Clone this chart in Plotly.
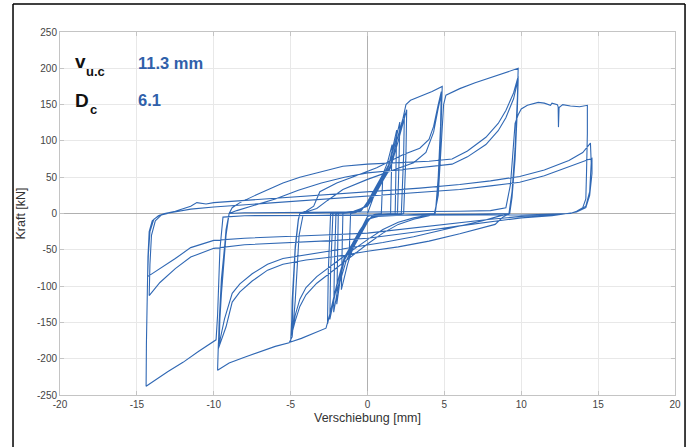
import plotly.graph_objects as go

# ---- data: hysteresis path, cycle by cycle (displacement mm, force kN) ----
s1_x = [0, 0.3, 0.6, 1.0, 0.95, 0.9, 0.5, 0.0, -0.5, -0.9, -1.2, -1.15, -1.1]
s1_y = [0, 18, 35, 55, 25, 0, -1, -4, -25, -45, -62, -30, 0]
s2_x = [-0.8, -0.4, 0, 0.5, 1.0, 1.3, 1.6, 1.55, 1.5, 1.0, 0.3, 0, -0.5, -1.0, -1.3, -1.7, -1.65, -1.6]
s2_y = [1, 4, 16, 34, 54, 70, 95, 50, 0, -1, -3, -12, -30, -50, -70, -105, -50, 0]
s3_x = [-1.2, -0.5, 0, 0.5, 1.0, 1.4, 1.7, 1.9, 1.85, 1.8, 1.2, 0.4, 0, -0.5, -1.0, -1.4, -1.8, -2.0, -1.95, -1.9]
s3_y = [1, 3, 14, 32, 52, 68, 95, 115, 60, 0, -1, -3, -10, -28, -48, -66, -95, -125, -60, 0]
s4_x = [-1.5, -0.6, 0, 0.5, 1.0, 1.4, 1.8, 2.1, 2.05, 1.95, 1.4, 0.5, 0, -0.5, -1.0, -1.5, -1.9, -2.2, -2.15, -2.05]
s4_y = [1, 3, 13, 30, 50, 66, 98, 126, 70, 0, -2, -4, -9, -26, -46, -64, -100, -136, -70, 0]
s5_x = [-1.6, -0.7, 0, 0.5, 1.0, 1.5, 1.9, 2.2, 2.4, 2.35, 2.2, 1.6, 0.6, 0, -0.5, -1.0, -1.5, -2.0, -2.3, -2.45, -2.4, -2.25]
s5_y = [1, 3, 12, 29, 48, 66, 100, 125, 138, 80, 0, -2, -4, -8, -24, -44, -62, -100, -130, -146, -80, 0]
s6_x = [-1.8, -0.8, 0, 0.5, 1.0, 1.5, 2.0, 2.3, 2.55, 2.5, 2.35, 1.8, 0.7, 0, -0.5, -1.0, -1.5, -2.0, -2.35, -2.6, -2.55, -2.4]
s6_y = [1, 3, 11, 27, 46, 64, 100, 125, 143, 80, 0, -2, -4, -8, -23, -42, -60, -98, -130, -152, -80, 0]

c5a_x = [-1.9, -0.9, 0, 0.5, 1.0, 1.5, 2.0, 2.3, 2.5, 2.8, 3.5, 4.2, 4.86, 4.8, 4.65, 4.5, 4.4,
         3.5, 2.5, 1.5, 0.6, 0, -0.5, -1.0, -1.5, -2.0, -2.4, -2.7, -3.5, -4.3, -5.0, -4.9, -4.7, -4.5, -4.4]
c5a_y = [1, 3, 10, 26, 45, 63, 100, 128, 150, 156, 162, 168, 175, 130, 60, 15, 0,
         -1, -2, -3, -4, -8, -23, -42, -60, -98, -135, -158, -165, -172, -177, -130, -50, -10, 0]
c5b_x = [-4.0, -3.5, -3.1, -2.0, -1.0, 0.6, 2.3, 3.4, 4.0, 4.3, 4.6, 4.8, 4.75, 4.6, 4.45, 4.35,
         4.0, 3.0, 2.0, 1.0, 0, -1.6, -3.3, -4.0, -4.4, -4.7, -4.95, -4.9, -4.7, -4.5, -4.4]
c5b_y = [3, 10, 30, 42, 50, 63, 81, 90, 102, 120, 150, 168, 120, 50, 10, 0,
         -3, -8, -15, -27, -42, -68, -96, -112, -128, -148, -168, -120, -45, -8, 0]
c5c_x = [-4.0, -3.3, -2.6, -1.6, 0, 1.5, 3.0, 3.8, 4.3, 4.6, 4.8, 4.75, 4.6, 4.45, 4.35,
         4.0, 3.0, 2.0, 1.0, 0, -1.6, -3.3, -4.0, -4.4, -4.7, -4.9, -4.85, -4.7, -4.5, -4.4]
c5c_y = [2, 7, 18, 33, 47, 58, 70, 84, 112, 145, 164, 115, 45, 8, 0,
         -2, -6, -12, -22, -36, -60, -87, -102, -118, -140, -162, -115, -45, -8, 0]

c10a_x = [-3, -1, 1, 3, 4.4, 4.6, 4.8, 4.95, 5.1, 6, 7, 8, 9, 9.8, 9.75, 9.6, 9.4, 9.2,
          7, 4, 1, -2, -4.2, -4.45, -4.7, -4.9, -5.1, -6, -7, -8, -9, -9.75, -9.7, -9.5, -9.2, -9.0]
c10a_y = [1, 2, 2, 2, 3, 25, 100, 150, 163, 172, 180, 187, 194, 200, 160, 90, 30, 0,
          -1, -2, -2, -2, -3, -30, -120, -170, -178, -183, -190, -198, -206, -216, -180, -110, -30, 0]
c10b_x = [-8.8, -8.3, -7, -5.5, -4.4, -3, -1.6, 0, 2, 4, 5.5, 6.5, 7.7, 8.5, 9.0, 9.5, 9.8, 9.75, 9.6, 9.4, 9.25,
          8.8, 8.3, 6, 4, 2, 0, -2.3, -4, -5.5, -6.5, -7.5, -8.3, -8.8, -9.2, -9.7, -9.65, -9.5, -9.2, -9.0]
c10b_y = [8, 15, 28, 42, 50, 58, 65, 68, 70, 72, 75, 86, 105, 124, 142, 166, 189, 150, 80, 25, 0,
          -5, -15, -28, -38, -46, -52, -60, -64, -70, -78, -93, -108, -122, -156, -186, -150, -90, -25, 0]
c10c_x = [-8.5, -7.5, -6, -4.5, -3, -1.5, 0, 2, 4, 5.5, 6.5, 7.7, 8.5, 9.0, 9.5, 9.8, 9.75, 9.6, 9.4, 9.25,
          8.5, 7.5, 5, 3, 1, -1, -3, -5.5, -6.5, -7.5, -8.3, -8.8, -9.3, -9.65, -9.6, -9.45, -9.2, -9.0]
c10c_y = [4, 10, 20, 32, 42, 50, 56, 60, 64, 68, 78, 95, 114, 132, 158, 185, 145, 75, 22, 0,
          -4, -10, -22, -32, -40, -47, -54, -62, -70, -83, -97, -110, -145, -180, -145, -85, -22, 0]

c15a_x = [-8, -5, -2, 0, 3, 6, 8, 9.0, 9.3, 9.5, 9.6, 9.8, 10.0, 10.4, 11.1, 11.5, 11.9, 12.0, 12.35, 12.4,
          12.42, 12.46, 12.7, 13.2, 13.8, 14.3, 14.3, 14.25, 14.2, 14.0, 13.6, 13.2,
          12, 10, 7, 4, 0, -4, -8, -9.4, -9.6, -9.75, -9.85, -11, -12, -13, -14, -14.4,
          -14.38, -14.33, -14.28, -14.2, -14.0, -13.6, -13.2]
c15a_y = [1, 2, 2, 2, 2, 3, 4, 8, 40, 100, 124, 136, 144, 149, 153, 152, 149, 152, 150, 147,
          119, 146, 150, 148, 147, 149, 110, 60, 20, 8, 3, 0,
          -1, -2, -2, -2, -3, -3, -3, -5, -50, -140, -174, -190, -205, -218, -232, -238,
          -180, -110, -60, -25, -10, -3, 0]
c15b_x = [-12.5, -11.5, -11.1, -10.5, -10, -8, -6, -4, -2, 0, 3.4, 6, 8, 9.9, 11.5, 13.1, 14, 14.5,
          14.55, 14.45, 14.2, 13.6, 13.0,
          12, 10, 8, 6, 4, 2, 0, -2, -5, -8, -10, -11.5, -12.5, -13.5, -14.3,
          -14.25, -14.15, -13.9, -13.5, -13.1]
c15b_y = [3, 10, 15, 13, 15, 18, 21, 24, 27, 30, 35, 40, 45, 51, 60, 73, 84, 97,
          70, 30, 10, 2, 0,
          -2, -4, -8, -13, -18, -23, -27, -29, -31, -34, -37, -47, -62, -76, -87,
          -55, -25, -8, -2, 0]
c15c_x = [-12.5, -11.5, -10, -8, -6, -4, -2, 0, 3.4, 6, 8, 9.9, 11.5, 13.1, 14, 14.6,
          14.6, 14.45, 14.2, 13.6, 13.0,
          12, 10, 8, 6, 4, 2, 0, -2, -5, -8, -10, -11.5, -12.5, -13.5, -14.2,
          -14.15, -14.05, -13.8, -13.4, -13.0]
c15c_y = [2, 6, 9, 12, 15, 18, 21, 24, 29, 33, 38, 43, 52, 64, 71, 76,
          55, 25, 8, 2, 0,
          -3, -6, -11, -17, -23, -29, -34, -37, -40, -43, -48, -60, -76, -95, -113,
          -70, -30, -10, -2, 0]

cycles_x = [s1_x, s2_x, s3_x, s4_x, s5_x, s6_x, c5a_x, c5b_x, c5c_x,
            c10a_x, c10b_x, c10c_x, c15a_x, c15b_x, c15c_x]
cycles_y = [s1_y, s2_y, s3_y, s4_y, s5_y, s6_y, c5a_y, c5b_y, c5c_y,
            c10a_y, c10b_y, c10c_y, c15a_y, c15b_y, c15c_y]

x_ticks = [-20, -15, -10, -5, 0, 5, 10, 15, 20]
y_ticks = [-250, -200, -150, -100, -50, 0, 50, 100, 150, 200, 250]

xs, ys = [], []
for cx, cy in zip(cycles_x, cycles_y):
    xs += cx
    ys += cy

LINE = "#3068b4"
TXT_BLUE = "#2f60aa"
FONT = "Liberation Sans, Arial, sans-serif"

fig = go.Figure()
fig.add_trace(go.Scatter(x=xs, y=ys, mode="lines",
                         line=dict(color=LINE, width=1.1), hoverinfo="skip",
                         showlegend=False))

axis_common = dict(showgrid=True, gridcolor="#e8e8e8", gridwidth=1,
                   zeroline=True, zerolinecolor="#b0b0b0", zerolinewidth=1,
                   showline=True, linecolor="#c4c4c4", linewidth=1, mirror="ticks",
                   ticks="inside", ticklen=4, tickcolor="#c4c4c4", automargin=False,
                   tickfont=dict(family=FONT, size=10, color="#444444"))

fig.update_xaxes(range=[-20, 20], tickvals=x_ticks, ticktext=[str(v) for v in x_ticks],
                 title=dict(text="Verschiebung [mm]", standoff=4,
                            font=dict(family=FONT, size=12.5, color="#333333")),
                 **axis_common)
fig.update_yaxes(range=[-250, 250], tickvals=y_ticks, ticktext=[str(v) for v in y_ticks],
                 title=dict(text="Kraft [kN]", standoff=8,
                            font=dict(family=FONT, size=12.5, color="#333333")),
                 **axis_common)

# labels (x in mm, y in kN, left-anchored)
labels = [
    dict(x=-19.1, y=209, text="<b>v</b>", size=19, color="#111111"),
    dict(x=-18.4, y=195, text="<b>u.c</b>", size=13, color="#111111"),
    dict(x=-15.0, y=207, text="<b>11.3 mm</b>", size=16.5, color=TXT_BLUE),
    dict(x=-19.1, y=156, text="<b>D</b>", size=19, color="#111111"),
    dict(x=-18.12, y=143, text="<b>c</b>", size=13, color="#111111"),
    dict(x=-15.0, y=156, text="<b>6.1</b>", size=16.5, color=TXT_BLUE),
]
for a in labels:
    fig.add_annotation(xref="x", yref="y", showarrow=False, xanchor="left", yanchor="middle",
                       x=a["x"], y=a["y"], text=a["text"], borderpad=0,
                       font=dict(family=FONT, size=a["size"], color=a["color"]))

# outer black frame (left, top, right edges)
frame = dict(type="line", xref="paper", yref="paper", line=dict(color="black", width=1.5))
fig.add_shape(x0=-0.0764, x1=-0.0764, y0=1.077, y1=-0.2, **frame)
fig.add_shape(x0=-0.0764, x1=1.0163, y0=1.077, y1=1.077, **frame)
fig.add_shape(x0=1.0163, x1=1.0163, y0=1.077, y1=-0.2, **frame)

fig.update_layout(width=692, height=447, paper_bgcolor="white", plot_bgcolor="white",
                  margin=dict(l=60, r=17, t=32, b=52),
                  font=dict(family=FONT))

fig.write_html("out.html", config={"displayModeBar": False},
               post_script="document.body.style.margin='0';document.body.style.padding='0';")
